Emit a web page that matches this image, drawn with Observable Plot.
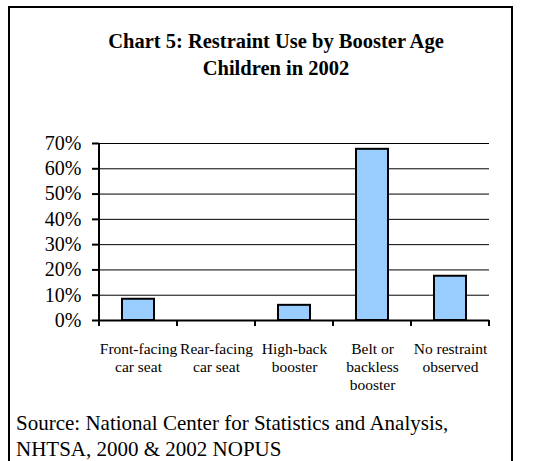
<!DOCTYPE html>
<html>
<head>
<meta charset="utf-8">
<script src="https://cdn.jsdelivr.net/npm/d3@7"></script>
<script src="https://cdn.jsdelivr.net/npm/@observablehq/plot@0.6"></script>
<style>
  html, body { margin: 0; padding: 0; background: #fff; }
  body {
    width: 553px; height: 461px; overflow: hidden; position: relative;
    font-family: "Liberation Serif", "Times New Roman", serif; color: #000;
  }
  #frame {
    position: absolute; left: 8px; top: 6px; width: 501px; height: 480px;
    border: 2px solid #000; border-bottom: none;
  }
  #title {
    position: absolute; left: 0; width: 552px; top: 28px;
    text-align: center; font-weight: bold; font-size: 20.5px; line-height: 26.5px;
  }
  #chart { position: absolute; left: 0; top: 130px; }
  #source {
    position: absolute; left: 16px; top: 410px;
    font-size: 21px; line-height: 26px; white-space: nowrap;
  }
</style>
</head>
<body>
<div id="frame"></div>
<div id="title">Chart 5: Restraint Use by Booster Age<br>Children in 2002</div>
<div id="chart"></div>
<div id="source">Source: National Center for Statistics and Analysis,<br>NHTSA, 2000 &amp; 2002 NOPUS</div>
<script>
// Restraint categories and share of booster-age children (percent)
const categories = [
  "Front-facing car seat",
  "Rear-facing car seat",
  "High-back booster",
  "Belt or backless booster",
  "No restraint observed"
];
const categoryLabels = [
  "Front-facing\ncar seat",
  "Rear-facing\ncar seat",
  "High-back\nbooster",
  "Belt or\nbackless\nbooster",
  "No restraint\nobserved"
];
const shares = [8.4, 0, 6.0, 67.7, 17.5];
const yTicks = [0, 10, 20, 30, 40, 50, 60, 70];

const data = categories.map((c, i) => ({category: c, label: categoryLabels[i], share: shares[i]}));

// Category-boundary tick marks and the vertical value axis line
function categoryFrame(_, {x, y}, __, {marginLeft}) {
  const g = d3.create("svg:g").attr("stroke", "black").attr("stroke-width", 2);
  const y0 = y(0);
  const half = (x.step() - x.bandwidth()) / 2;
  const edges = categories.map(c => x(c) - half);
  edges.push(x(categories[categories.length - 1]) + x.bandwidth() + half);
  for (const e of edges) {
    g.append("line").attr("x1", e).attr("x2", e).attr("y1", y0).attr("y2", y0 + 6);
  }
  g.append("line")
    .attr("x1", marginLeft).attr("x2", marginLeft)
    .attr("y1", y(yTicks[yTicks.length - 1])).attr("y2", y0);
  return g.node();
}

const chart = Plot.plot({
  width: 553,
  height: 275,
  marginLeft: 99,
  marginRight: 64,
  marginTop: 13,
  marginBottom: 85,
  style: {
    background: "none",
    overflow: "visible",
    fontFamily: "'Liberation Serif', 'Times New Roman', serif",
    color: "black"
  },
  x: {domain: categories, paddingInner: 0.59, paddingOuter: 0.295, axis: null},
  y: {domain: [0, 70], axis: null},
  marks: [
    Plot.gridY(yTicks, {stroke: "black", strokeOpacity: 1, strokeWidth: 1}),
    Plot.axisY(yTicks, {
      tickSize: 7, tickPadding: 11, strokeWidth: 2,
      tickFormat: d => `${d}%`, fontSize: 20, label: null
    }),
    Plot.barY(data, {x: "category", y: "share", fill: "#99CCFF", stroke: "black", strokeWidth: 2}),
    Plot.ruleY([0], {stroke: "black", strokeWidth: 2}),
    categoryFrame,
    Plot.text(data, {
      x: "category", text: "label", frameAnchor: "bottom",
      lineAnchor: "top", dy: 20, fontSize: 15.5, lineHeight: 1.19, fill: "black"
    })
  ]
});
document.getElementById("chart").append(chart);
</script>
</body>
</html>
